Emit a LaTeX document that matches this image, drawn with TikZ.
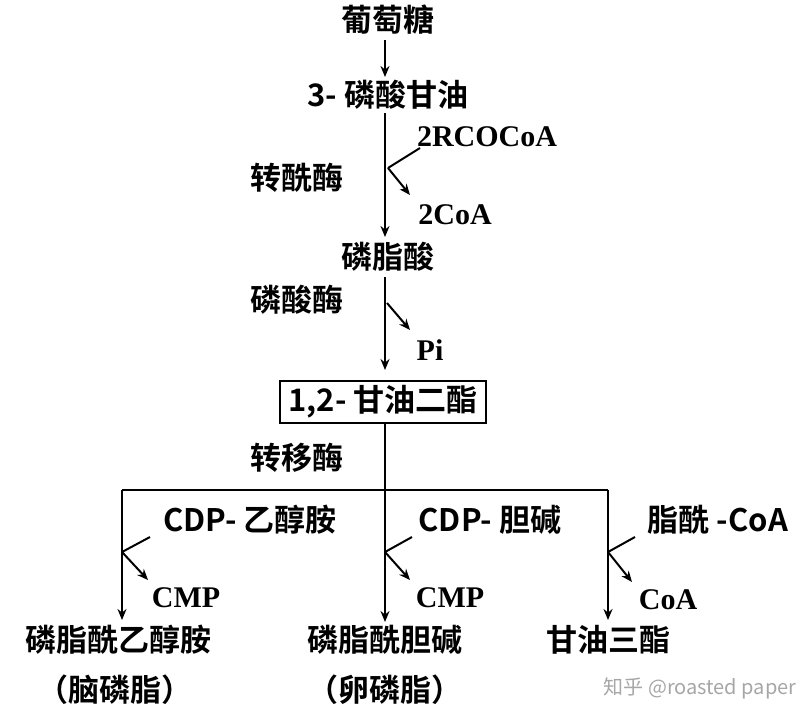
\documentclass[tikz,border=0pt]{standalone}
\usetikzlibrary{arrows.meta}
\usepackage{fontspec}
\setmainfont{Liberation Serif}
\newfontfamily\cjk{Noto Sans CJK SC}[BoldFont={Noto Sans CJK SC Bold}]
\begin{document}
\begin{tikzpicture}[x=1pt,y=-1pt,
  lab/.style={font=\cjk\bfseries\fontsize{31}{34}\selectfont,inner sep=0pt},
  lat/.style={font=\bfseries\fontsize{30}{34}\selectfont,inner sep=0pt},
  ln/.style={line width=2pt},
  ar/.style={line width=2pt,-{Stealth[length=11pt,width=9pt]}}]
\useasboundingbox (0,0) rectangle (805,720);
\node[lab] (glc) at (388,20) {葡萄糖};
\node[lab] (g3p) at (388,95) {3- 磷酸甘油};
\node[lab] (pa) at (388,257) {磷脂酸};
\node[lab,draw,line width=2pt,inner xsep=8pt,inner ysep=5pt] (dag) at (383,402) {1,2- 甘油二酯};
\node[lab] (e1) at (297,178) {转酰酶};
\node[lab] (e2) at (297,300) {磷酸酶};
\node[lab] (e3) at (297,458) {转移酶};
\node[lat] (r1) at (487,137) {2RCOCoA};
\node[lat] (r2) at (455,215) {2CoA};
\node[lat] (pi) at (430,350) {Pi};
\node[lab] (c1) at (250,520) {CDP- 乙醇胺};
\node[lab] (c2) at (490,520) {CDP- 胆碱};
\node[lab] (c3) at (718,520) {脂酰 -CoA};
\node[lat] (m1) at (186,598) {CMP};
\node[lat] (m2) at (450,598) {CMP};
\node[lat] (m3) at (668,600) {CoA};
\node[lab] (p1) at (118,640) {磷脂酰乙醇胺};
\node[lab] (p2) at (385,640) {磷脂酰胆碱};
\node[lab] (p3) at (608,640) {甘油三酯};
\node[lab] (b1) at (115,690) {（脑磷脂）};
\node[lab] (b2) at (385,690) {（卵磷脂）};
\node[font=\cjk\fontsize{20}{24}\selectfont,text=black!35,inner sep=0pt] (wm) at (700,688) {知乎 @roasted paper};
% main flow
\draw[ar] (385,40) -- (385,77);
\draw[ar] (385,113) -- (385,237);
\coordinate (j1) at (388,168);
\draw[ln] (420,148) -- (j1);
\draw[ar] (j1) -- (410,195);
\draw[ar] (385,277) -- (385,370);
\coordinate (j2) at (387,303);
\draw[ar] (j2) -- (410,330);
\draw[ln] (dag.south -| 385,0) -- (385,490);
\draw[ln] (122,490) -- (608,490);
\draw[ar] (122,490) -- (122,620);
\draw[ar] (385,490) -- (385,622);
\draw[ar] (608,490) -- (608,620);
\coordinate (k1) at (122,552);
\coordinate (k2) at (385,552);
\coordinate (k3) at (608,552);
\draw[ln] (150,537) -- (k1); \draw[ar] (k1) -- (148,580);
\draw[ln] (412,537) -- (k2); \draw[ar] (k2) -- (410,580);
\draw[ln] (635,537) -- (k3); \draw[ar] (k3) -- (632,582);
\end{tikzpicture}
\end{document}
